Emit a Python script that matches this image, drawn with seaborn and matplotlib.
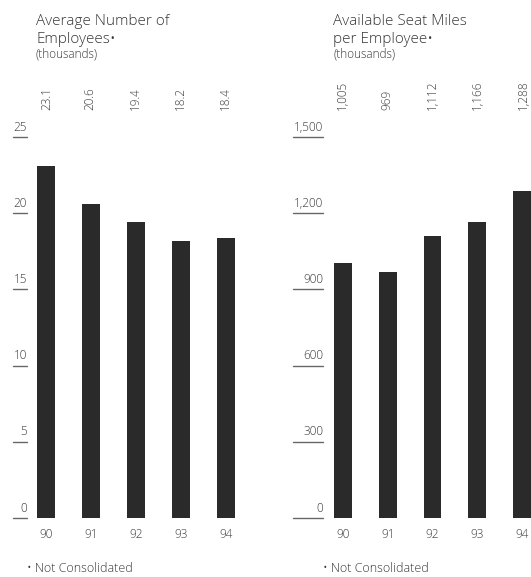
import matplotlib
matplotlib.use("Agg")
import matplotlib.pyplot as plt
import matplotlib.transforms as mtransforms
import seaborn as sns
import pandas as pd

# Data
years = ["90", "91", "92", "93", "94"]
employees = [23.1, 20.6, 19.4, 18.2, 18.4]
employee_labels = ["23.1", "20.6", "19.4", "18.2", "18.4"]
asm_per_employee = [1005, 969, 1112, 1166, 1288]
asm_labels = ["1,005", "969", "1,112", "1,166", "1,288"]
emp_ticks = [0, 5, 10, 15, 20, 25]
emp_tick_labels = ["0", "5", "10", "15", "20", "25"]
asm_ticks = [0, 300, 600, 900, 1200, 1500]
asm_tick_labels = ["0", "300", "600", "900", "1,200", "1,500"]

sns.set_theme(style="white")
plt.rcParams["font.family"] = ["Open Sans", "DejaVu Sans"]
plt.rcParams["font.weight"] = "light"

W, H = 531, 577
fig = plt.figure(figsize=(W / 100, H / 100), dpi=100)

TEXT = "#383838"
BAR = "#2a2a2a"
LINE = "#666666"


def fx(px):
    return px / W


def fy(py):
    return 1 - py / H


def panel(left_px, right_px, xlim, values, labels, ticks, tick_labels, ymax,
          tick_x0, tick_x1, title_x, title_lines, label_xs):
    y0_px, ytop_px = 518, 137
    ax = fig.add_axes([fx(left_px), fy(y0_px), fx(right_px - left_px),
                       (y0_px - ytop_px) / H])
    df = pd.DataFrame({"year": years, "value": values})
    sns.barplot(data=df, x="year", y="value", ax=ax, color=BAR,
                saturation=1, width=0.4, edgecolor="none")
    ax.set_xlim(*xlim)
    ax.set_ylim(0, ymax)
    ax.set_xlabel("")
    ax.set_ylabel("")
    ax.set_yticks([])
    for s in ax.spines.values():
        s.set_visible(False)
    ax.tick_params(axis="x", length=0, pad=7, labelsize=8.5, labelcolor=TEXT)
    ax.patch.set_alpha(0)

    # underlined y tick labels
    trans = mtransforms.blended_transform_factory(fig.transFigure, ax.transData)
    off = mtransforms.ScaledTranslation(0, 2.5 / 72, fig.dpi_scale_trans)
    for t, lab in zip(ticks, tick_labels):
        ax.plot([fx(tick_x0), fx(tick_x1)], [t, t], transform=trans,
                color=LINE, lw=1.0, clip_on=False)
        ax.text(fx(tick_x1), t, lab, transform=trans + off, ha="right",
                va="bottom", fontsize=8.5, color=TEXT)

    # rotated value labels above the plot
    for xpx, lab in zip(label_xs, labels):
        fig.text(fx(xpx), fy(110), lab, rotation=90, ha="center",
                 va="bottom", fontsize=8.5, color=TEXT)

    fig.text(fx(title_x), fy(25), title_lines[0], fontsize=11, color=TEXT,
             ha="left", va="baseline")
    fig.text(fx(title_x), fy(43), title_lines[1], fontsize=11, color=TEXT,
             ha="left", va="baseline")
    fig.text(fx(title_x), fy(58), "(thousands)", fontsize=8.5, color=TEXT,
             ha="left", va="baseline")
    return ax


panel(30, 250, (-0.356, 4.533), employees, employee_labels, emp_ticks,
      emp_tick_labels, 25, 13, 27, 36,
      ["Average Number of", "Employees\u2022"], [47, 90, 135, 180, 225])
panel(330, 531, (-0.29, 4.2), asm_per_employee, asm_labels, asm_ticks,
      asm_tick_labels, 1500, 293, 323, 333,
      ["Available Seat Miles", "per Employee\u2022"], [342, 387, 432, 477, 523])

fig.text(fx(27), fy(568), "\u2022 Not Consolidated", fontsize=9,
         color=TEXT, ha="left", va="center")
fig.text(fx(323), fy(568), "\u2022 Not Consolidated", fontsize=9,
         color=TEXT, ha="left", va="center")

fig.savefig("out.png", dpi=100)
